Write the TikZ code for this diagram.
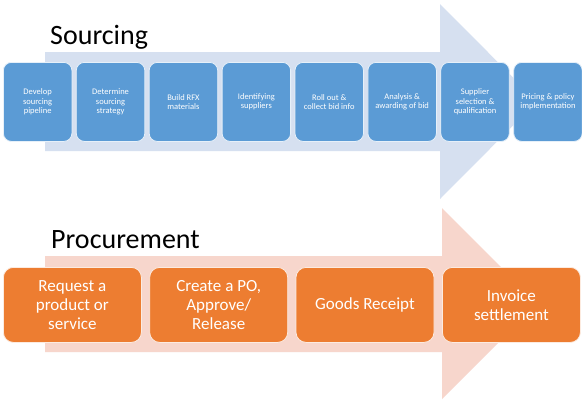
\documentclass[tikz,border=0pt]{standalone}
\usepackage{fontspec}
\setmainfont{Carlito}
\definecolor{sblue}{HTML}{5B9BD5}
\definecolor{sarrow}{HTML}{D6E0F0}
\definecolor{porange}{HTML}{ED7D31}
\definecolor{parrow}{HTML}{F7D6CC}
\begin{document}
\begin{tikzpicture}[x=1pt,y=-1pt,
  sbox/.style={rectangle, rounded corners=8pt, fill=sblue, draw=white!85!sblue, line width=0.8pt,
    minimum width=68.5pt, minimum height=79pt, inner sep=1pt, anchor=north west,
    align=center, text=white, font=\fontsize{8.5}{9.5}\selectfont},
  pbox/.style={rectangle, rounded corners=10pt, fill=porange, draw=white!85!porange, line width=0.8pt,
    minimum width=138pt, minimum height=75pt, inner sep=1pt, anchor=north west,
    align=center, text=white, font=\fontsize{17}{19}\selectfont},
  title/.style={anchor=base west, inner sep=0pt, font=\fontsize{28}{30}\selectfont, text=black}
]
\useasboundingbox (0,0) rectangle (582,400);
\fill[white] (0,0) rectangle (582,400);
% Sourcing arrow
\fill[sarrow] (45,52) -- (440,52) -- (440,4) -- (537,101.5) -- (440,199) -- (440,151) -- (45,151) -- cycle;
\node[title] (stitle) at (50,44) {Sourcing};
\node[sbox] (s1) at (3,62) {Develop\\sourcing\\pipeline};
\node[sbox] (s2) at (75.9,62) {Determine\\sourcing\\strategy};
\node[sbox] (s3) at (148.8,62) {Build RFX\\materials};
\node[sbox] (s4) at (221.7,62) {Identifying\\suppliers};
\node[sbox] (s5) at (294.6,62) {Roll out \&\\collect bid info};
\node[sbox] (s6) at (367.5,62) {Analysis \&\\awarding of bid};
\node[sbox] (s7) at (440.4,62) {Supplier\\selection \&\\qualification};
\node[sbox] (s8) at (513.3,62) {Pricing \& policy\\implementation};
% Procurement arrow
\fill[parrow] (45,256) -- (442,256) -- (442,208) -- (537.5,303.5) -- (442,399) -- (442,352) -- (45,352) -- cycle;
\node[title] (ptitle) at (51,248) {Procurement};
\node[pbox] (p1) at (3,267) {Request a\\product or\\service};
\node[pbox] (p2) at (149.3,267) {Create a PO,\\Approve/\\Release};
\node[pbox] (p3) at (295.6,267) {Goods Receipt};
\node[pbox] (p4) at (442,267) {Invoice\\settlement};
\end{tikzpicture}
\end{document}
